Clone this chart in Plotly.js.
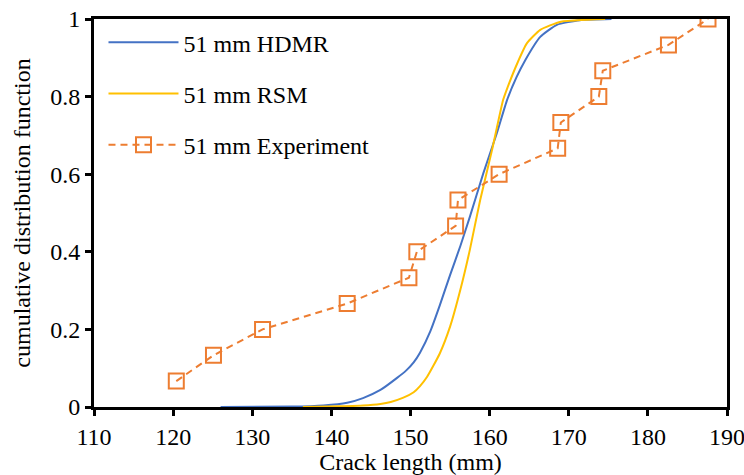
<!DOCTYPE html>
<html>
<head>
<meta charset="utf-8">
<script src="https://cdn.plot.ly/plotly-3.0.1.min.js"></script>
<style>html,body{margin:0;padding:0;background:#fff;}#chart{width:744px;height:475px;}</style>
</head>
<body>
<div id="chart"></div>
<script>
const hdmrX = [126, 135, 139, 142, 144, 146.2, 148.3, 149.5, 150.4, 151.2, 152.5, 153.7, 155.0, 156.3, 157.5, 159.2, 160.9, 162.2, 163.4, 164.5, 166.4, 168.5, 171.4, 175.4];
const hdmrY = [0, 0.001, 0.004, 0.011, 0.023, 0.044, 0.075, 0.095, 0.115, 0.14, 0.195, 0.262, 0.34, 0.415, 0.49, 0.602, 0.705, 0.791, 0.85, 0.894, 0.954, 0.985, 0.997, 1.0];
const rsmX = [136.4, 141, 144, 146.2, 147.5, 149.1, 150.4, 151.2, 152.1, 153.7, 155.0, 156.3, 157.5, 158.8, 160.3, 161.7, 162.2, 163.5, 164.7, 166.4, 169.0, 174.6];
const rsmY = [0, 0.002, 0.004, 0.008, 0.013, 0.024, 0.038, 0.054, 0.078, 0.138, 0.207, 0.302, 0.405, 0.533, 0.662, 0.791, 0.82, 0.886, 0.937, 0.972, 0.993, 1.0];
const expX = [120.4, 125.1, 131.3, 142.0, 149.8, 150.8, 155.7, 156.0, 161.2, 168.6, 169.0, 173.8, 174.3, 182.6, 187.6];
const expY = [0.0667, 0.1333, 0.2, 0.2667, 0.3333, 0.4, 0.4667, 0.5333, 0.6, 0.6667, 0.7333, 0.8, 0.8667, 0.9333, 1.0];
const xTicks = [110, 120, 130, 140, 150, 160, 170, 180, 190];
const yTicks = [0, 0.2, 0.4, 0.6, 0.8, 1];
const names = ['51 mm HDMR', '51 mm RSM', '51 mm Experiment'];

const font = 'Liberation Serif, Times New Roman, serif';
const fs = 24;
const traces = [
  {x: hdmrX, y: hdmrY, name: names[0], mode: 'lines', legendgroup: 'a',
   line: {color: '#4472C4', width: 2, shape: 'spline', smoothing: 0.5}},
  {x: rsmX, y: rsmY, name: names[1], mode: 'lines', legendgroup: 'b',
   line: {color: '#FFC000', width: 2, shape: 'spline', smoothing: 0.5}},
  {x: expX, y: expY, name: names[2], mode: 'lines+markers', legendgroup: 'c',
   line: {color: '#ED7D31', width: 2, dash: '7px,5px'},
   marker: {symbol: 'square-open', size: 15, color: '#ED7D31', line: {width: 2, color: '#ED7D31'}}}
];
const layout = {
  width: 744, height: 475,
  margin: {l: 94, r: 17, t: 19, b: 68},
  paper_bgcolor: '#fff', plot_bgcolor: '#fff',
  font: {family: font, size: fs, color: '#000'},
  showlegend: true,
  legend: {x: 0.015, y: 0.997, xanchor: 'left', yanchor: 'top', bgcolor: 'rgba(0,0,0,0)',
           traceorder: 'grouped', tracegroupgap: 17, itemwidth: 70,
           font: {family: font, size: fs, color: '#000'}},
  xaxis: {range: [110, 190], tickvals: xTicks, ticktext: xTicks.map(String),
          showgrid: false, zeroline: false, showline: true, mirror: true,
          linecolor: '#000', linewidth: 3, ticks: 'outside', ticklen: 6, tickwidth: 3, tickcolor: '#000',
          tickfont: {family: font, size: fs}, fixedrange: true, ticklabeloverflow: 'allow',
          title: {text: 'Crack length (mm)', font: {family: font, size: fs}, standoff: 0}},
  yaxis: {range: [0, 1], tickvals: yTicks, ticktext: yTicks.map(String),
          showgrid: false, zeroline: false, showline: true, mirror: true,
          linecolor: '#000', linewidth: 3, ticks: 'outside', ticklen: 6, tickwidth: 3, tickcolor: '#000',
          tickfont: {family: font, size: fs}, fixedrange: true,
          title: {text: 'cumulative distribution function', font: {family: font, size: fs}, standoff: 13}}
};
Plotly.newPlot('chart', traces, layout, {displayModeBar: false, staticPlot: true});
</script>
</body>
</html>
